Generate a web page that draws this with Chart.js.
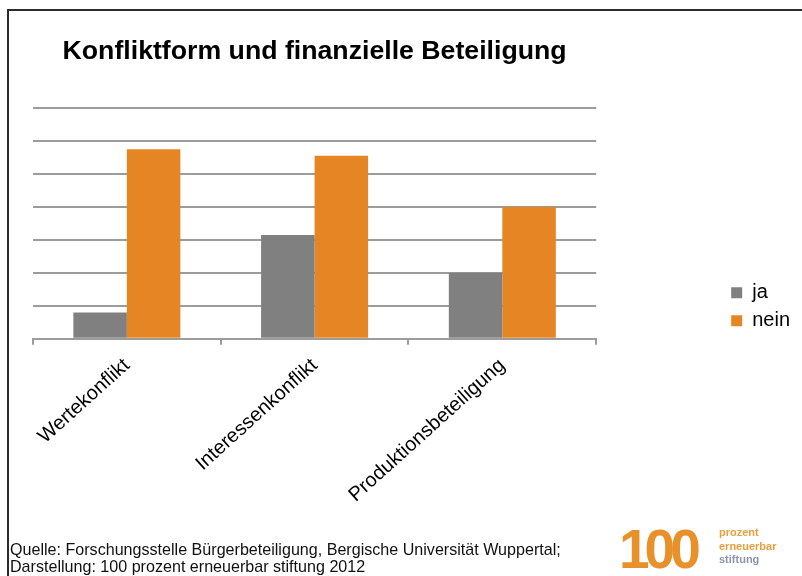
<!DOCTYPE html>
<html>
<head>
<meta charset="utf-8">
<script src="https://cdn.jsdelivr.net/npm/chart.js@4.4.1/dist/chart.umd.min.js"></script>
<style>
  body { margin: 0; background: #fff; }
  #wrap { position: relative; width: 802px; height: 576px; overflow: hidden; font-family: "Liberation Sans", Arial, sans-serif; }
  #frame { position: absolute; left: 7px; top: 9px; width: 900px; height: 700px; border-left: 2px solid #2b2b2b; border-top: 2px solid #2b2b2b; }
  #myChart { position: absolute; left: 0; top: 0; }
  #source { position: absolute; left: 10px; top: 541px; font-size: 16.1px; line-height: 16.5px; color: #111; white-space: nowrap; }
  #logo { position: absolute; left: 619px; top: 522px; width: 170px; height: 50px; }
  #logo .big { position: absolute; left: 0; top: 0; font-size: 55px; font-weight: bold; color: #e8912a; letter-spacing: -5px; line-height: 55px; }
  #logo .small { position: absolute; left: 100px; top: 4px; font-size: 11px; font-weight: bold; line-height: 13.5px; color: #e99f3c; }
  #logo .small span { display: block; }
</style>
</head>
<body>
<div id="wrap">
  <div id="frame"></div>
  <canvas id="myChart" width="802" height="576"></canvas>
  <div id="source">Quelle: Forschungsstelle Bürgerbeteiligung, Bergische Universität Wuppertal;<br>Darstellung: 100 prozent erneuerbar stiftung 2012</div>
  <div id="logo">
    <div class="big">100</div>
    <div class="small"><span>prozent</span><span>erneuerbar</span><span style="color:#8d93ab">stiftung</span></div>
  </div>
</div>
<script>
const categories = ['Wertekonflikt', 'Interessenkonflikt', 'Produktionsbeteiligung'];
const jaValues = [0.8, 3.15, 2.0];
const neinValues = [5.75, 5.55, 4.0];
const yTicks = [0, 1, 2, 3, 4, 5, 6, 7];

Chart.defaults.font.family = '"Liberation Sans", Arial, sans-serif';
Chart.defaults.color = '#000';

const gridGray = '#9c9c9c';
const ctx = document.getElementById('myChart');

new Chart(ctx, {
  type: 'bar',
  data: {
    labels: categories,
    datasets: [{
      label: 'ja',
      data: jaValues,
      backgroundColor: '#808080',
      borderWidth: 0
    }, {
      label: 'nein',
      data: neinValues,
      backgroundColor: '#e68523',
      borderWidth: 0
    }]
  },
  options: {
    responsive: false,
    animation: false,
    categoryPercentage: 0.57,
    barPercentage: 1.0,
    layout: {
      padding: { left: 33, top: 10, right: 2, bottom: 60 }
    },
    plugins: {
      title: {
        display: true,
        text: 'Konfliktform und finanzielle Beteiligung',
        fullSize: false,
        font: { size: 26.7, weight: 'bold' },
        color: '#000',
        padding: { top: 26, bottom: 40 }
      },
      legend: {
        position: 'right',
        align: 'end',
        fullSize: false,
        labels: {
          boxWidth: 11,
          boxHeight: 11,
          padding: 8,
          font: { size: 20 },
          color: '#000'
        }
      },
      tooltip: { enabled: false }
    },
    scales: {
      x: {
        grid: {
          display: true,
          drawOnChartArea: false,
          drawTicks: true,
          tickLength: 6,
          color: gridGray,
          lineWidth: 2
        },
        border: { display: true, color: gridGray, width: 2 },
        ticks: {
          autoSkip: false,
          maxRotation: 42,
          minRotation: 42,
          padding: 9,
          font: { size: 20 },
          color: '#000'
        }
      },
      y: {
        min: yTicks[0],
        max: yTicks[yTicks.length - 1],
        afterBuildTicks: s => { s.ticks = yTicks.map(v => ({ value: v })); },
        ticks: { display: false },
        grid: { color: gridGray, lineWidth: 2, drawTicks: false },
        border: { display: false }
      },
      spacer: {
        type: 'linear',
        position: 'right',
        display: true,
        ticks: { display: false },
        grid: { display: false, drawTicks: false },
        border: { display: false },
        afterFit: s => { s.width = 127; }
      }
    }
  }
});
</script>
</body>
</html>
